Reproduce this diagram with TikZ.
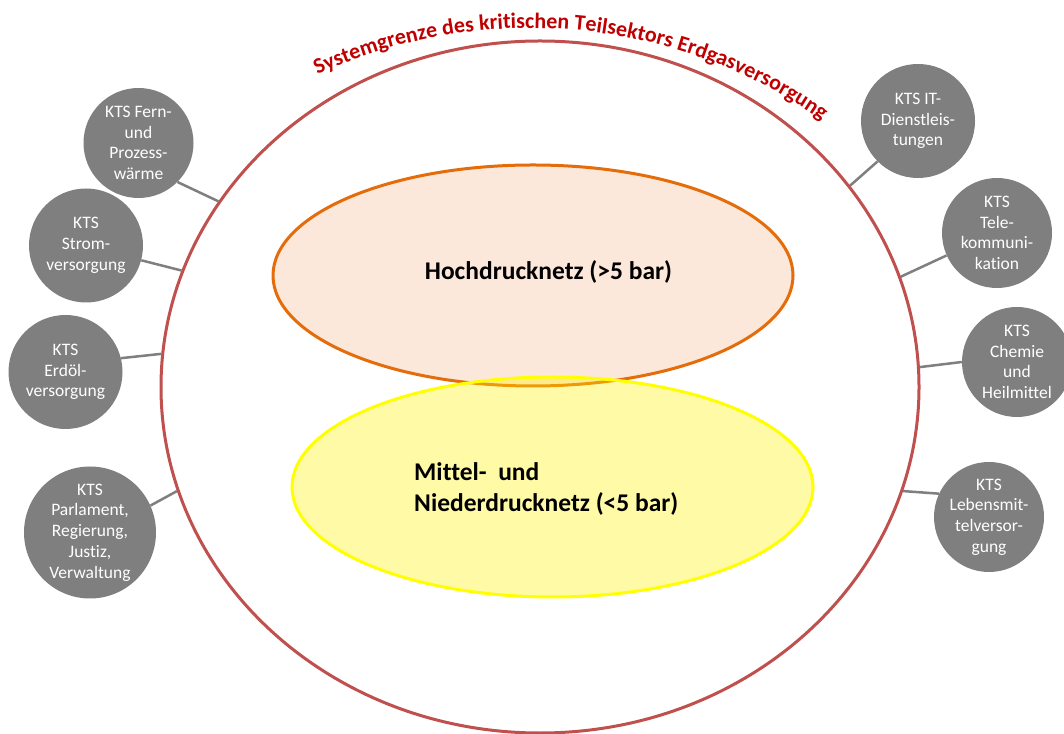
\documentclass[tikz,border=0pt]{standalone}
\usepackage{fontspec}
\setmainfont{Carlito}[Ligatures=NoCommon]
\usetikzlibrary{shapes.geometric,decorations.text}
\definecolor{sysred}{RGB}{192,80,77}
\definecolor{titlered}{RGB}{192,0,0}
\definecolor{ktsgray}{RGB}{127,127,127}
\definecolor{hochline}{RGB}{228,108,10}
\definecolor{hochfill}{RGB}{252,232,218}
\definecolor{niederline}{RGB}{255,255,0}
\begin{document}
\begin{tikzpicture}[x=1pt,y=1pt,
  kts/.style={circle, fill=ktsgray, text=white, align=center, inner sep=-6pt,
    minimum size=110pt, font=\fontsize{17.5}{20.7}\selectfont},
  link/.style={draw=ktsgray, line width=2.5pt},
  bigtext/.style={font=\fontsize{25.5}{31}\selectfont\bfseries, inner sep=0pt}]
\useasboundingbox (0,0) rectangle (1064,733);
\fill[white] (0,0) rectangle (1064,733);

% system boundary
\node[ellipse, draw=sysred, line width=3pt, minimum width=758pt, minimum height=692pt, inner sep=0pt] (sys) at (540,346) {};

% title along arc
\path[decorate, decoration={text along path, text align=fit to path, text color=titlered,
  text={|\fontsize{22}{26}\selectfont\bfseries|Systemgrenze des kritischen Teilsektors Erdgasversorgung}}]
  (530,198) ++(114.8:507) arc[start angle=114.8, end angle=55.4, radius=507];

% pressure networks
\node[ellipse, draw=hochline, fill=hochfill, line width=3pt, minimum width=520pt, minimum height=221pt, inner sep=0pt] (hoch) at (533,457.5) {};
\node[ellipse, draw=niederline, fill=yellow, fill opacity=0.35, line width=3pt, minimum width=521pt, minimum height=220pt, inner sep=0pt] (nieder) at (552.5,246) {};
\node[bigtext] (hochtext) at (548.5,461) {Hochdrucknetz (>5 bar)};
\node[bigtext, align=left, anchor=west] (niedertext) at (414,244) {Mittel-\ \ und\\Niederdrucknetz (<5 bar)};

% KTS circles
\node[kts] (fern) at (138.5,590) {KTS Fern-\\und\\Prozess-\\wärme};
\node[kts, minimum size=114pt] (strom) at (86,487.5) {KTS\\Strom-\\versorgung};
\node[kts, minimum size=114pt] (erdoel) at (65.5,361) {KTS\\Erdöl-\\versorgung};
\node[kts, minimum size=132pt] (parl) at (90,200.5) {KTS\\Parlament,\\Regierung,\\Justiz,\\Verwaltung};
\node[kts, minimum size=114pt] (it) at (918,612) {KTS IT-\\Dienstleis-\\tungen};
\node[kts] (tele) at (997,500) {KTS\\Tele-\\kommuni-\\kation};
\node[kts] (chemie) at (1017,371) {KTS\\Chemie\\und\\Heilmittel};
\node[kts] (leben) at (989,216) {KTS\\Lebensmit-\\telversor-\\gung};

% connectors
\draw[link] (fern.-45) -- (sys.150);
\draw[link] (strom.-15.5) -- (sys.162.3);
\draw[link] (erdoel.14) -- (sys.175.5);
\draw[link] (parl.24) -- (sys.196.6);
\draw[link] (it.225) -- (sys.33.5);
\draw[link] (tele.204) -- (sys.17.3);
\draw[link] (chemie.180) -- (sys.3.6);
\draw[link] (leben.155) -- (sys.344.3);
\end{tikzpicture}
\end{document}
